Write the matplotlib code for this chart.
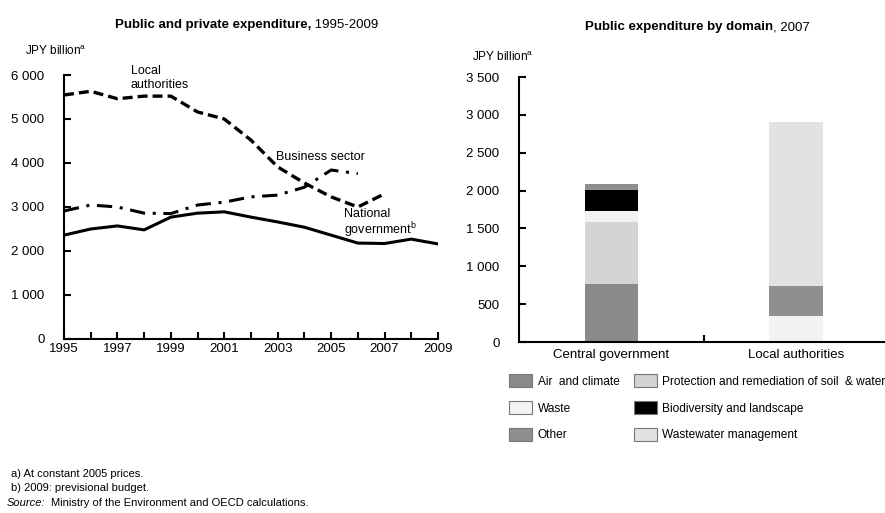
import matplotlib.pyplot as plt
import numpy as np

plt.rcParams['font.family'] = ['Liberation Sans', 'DejaVu Sans']
plt.rcParams['mathtext.fontset'] = 'custom'
plt.rcParams['mathtext.rm'] = 'Liberation Sans'

# left panel data (JPY billion, constant 2005 prices)
years = list(range(1995, 2010))
local_auth = [5545, 5630, 5460, 5520, 5520, 5160, 5000, 4520, 3910, 3545, 3230, 3000, 3300]
business = [2910, 3045, 3000, 2860, 2850, 3045, 3110, 3230, 3270, 3450, 3840, 3760]
national = [2360, 2500, 2570, 2480, 2770, 2860, 2890, 2770, 2660, 2540, 2360, 2180, 2170, 2270, 2160]

# right panel data (2007)
bars = ['Central government', 'Local authorities']
domains = ['Air  and climate', 'Waste', 'Other',
           'Protection and remediation of soil  & water',
           'Biodiversity and landscape', 'Wastewater management']
# stacking order bottom -> top
stack_order = ['Air  and climate', 'Protection and remediation of soil  & water', 'Waste',
               'Biodiversity and landscape', 'Other']
central = {'Air  and climate': 765, 'Protection and remediation of soil  & water': 825,
           'Waste': 138, 'Biodiversity and landscape': 285, 'Other': 79}
local_order = ['Waste', 'Other', 'Wastewater management']
local = {'Waste': 337, 'Other': 404, 'Wastewater management': 2160}
colors = {'Air  and climate': '#8a8a8a', 'Waste': '#f2f2f2', 'Other': '#8f8f8f',
          'Protection and remediation of soil  & water': '#d4d4d4',
          'Biodiversity and landscape': '#000000', 'Wastewater management': '#e2e2e2'}

fig = plt.figure(figsize=(8.85, 5.13), dpi=100)

# ---- left: lines
ax1 = fig.add_axes([0.0723, 0.3392, 0.4226, 0.5146])
ax1.plot(years, national, color='black', lw=2.2, solid_joinstyle='round')
ax1.plot(years[:len(local_auth)], local_auth, color='black', lw=2.4, ls=(0, (3, 1.5)))
ax1.plot(years[:len(business)], business, color='black', lw=2.2, ls=(0, (5, 2.5, 1, 2.5)))
ax1.set_xlim(1995, 2009)
ax1.set_ylim(0, 6000)
ax1.set_xticks(years)
ax1.set_xticklabels([str(y) if (y - 1995) % 2 == 0 else '' for y in years])
ax1.set_yticks([0, 1000, 2000, 3000, 4000, 5000, 6000])
ax1.set_yticklabels(['0', '1 000', '2 000', '3 000', '4 000', '5 000', '6 000'])
for s in ['top', 'right']:
    ax1.spines[s].set_visible(False)
for s in ['left', 'bottom']:
    ax1.spines[s].set_linewidth(1.5)
ax1.tick_params(direction='in', length=5, width=1.5, labelsize=9.5)
ax1.tick_params(axis='y', pad=14)
ax1.tick_params(axis='x', pad=3)
ax1.text(1997.5, 5640, 'Local\nauthorities', fontsize=9, va='bottom', linespacing=1.2)
ax1.text(2002.95, 3990, 'Business sector', fontsize=9, va='bottom')
ax1.text(2005.5, 2250, 'National\ngovernment$^{\\mathrm{b}}$', fontsize=9, va='bottom', linespacing=1.0)

# ---- right: stacked bars
ax2 = fig.add_axes([0.5864, 0.3333, 0.4136, 0.5166])
bottom = 0
for d in stack_order:
    ax2.bar(0, central[d], bottom=bottom, width=0.29, color=colors[d])
    bottom += central[d]
bottom = 0
for d in local_order:
    ax2.bar(1, local[d], bottom=bottom, width=0.29, color=colors[d])
    bottom += local[d]
ax2.set_xlim(-0.5, 1.48)
ax2.set_ylim(0, 3500)
ax2.set_xticks([0.5])
ax2.set_xticklabels([''])
for i, b in enumerate(bars):
    ax2.text(i, -90, b, ha='center', va='top', fontsize=9.5)
ax2.set_yticks([0, 500, 1000, 1500, 2000, 2500, 3000, 3500])
ax2.set_yticklabels(['0', '500', '1 000', '1 500', '2 000', '2 500', '3 000', '3 500'])
for s in ['top', 'right']:
    ax2.spines[s].set_visible(False)
for s in ['left', 'bottom']:
    ax2.spines[s].set_linewidth(1.5)
ax2.tick_params(direction='in', length=5, width=1.5, labelsize=9.5)
ax2.tick_params(axis='y', pad=14)

# legend
handles = [plt.Rectangle((0, 0), 1, 1, facecolor=colors[d], edgecolor='#777777', lw=0.8) for d in domains]
fig.legend(handles, domains, ncol=2, loc='upper left', bbox_to_anchor=(0.575, 0.27),
           frameon=False, fontsize=8.6, handlelength=1.95, handleheight=1.2,
           columnspacing=1.2, labelspacing=1.15, handletextpad=0.45,
           borderaxespad=0, borderpad=0)

# titles
fig.text(0.3514, 0.951, 'Public and private expenditure,', ha='right', va='center',
         fontsize=9.5, fontweight='bold')
fig.text(0.3514, 0.951, ' 1995-2009', ha='left', va='center', fontsize=9.5)
fig.text(0.8734, 0.947, 'Public expenditure by domain', ha='right', va='center',
         fontsize=9.5, fontweight='bold')
fig.text(0.8734, 0.947, ', 2007', ha='left', va='center', fontsize=9.5)

fig.text(0.028, 0.900, 'JPY billion$^{\\mathrm{a}}$', fontsize=8.5, va='center')
fig.text(0.533, 0.889, 'JPY billion$^{\\mathrm{a}}$', fontsize=8.5, va='center')

# notes
fig.text(0.012, 0.076, 'a) At constant 2005 prices.', fontsize=8, va='center')
fig.text(0.012, 0.048, 'b) 2009: previsional budget.', fontsize=8, va='center')
fig.text(0.008, 0.020, 'Source:', fontsize=8, va='center', style='italic')
fig.text(0.058, 0.020, 'Ministry of the Environment and OECD calculations.', fontsize=8, va='center')

fig.savefig('out.png', dpi=100)
